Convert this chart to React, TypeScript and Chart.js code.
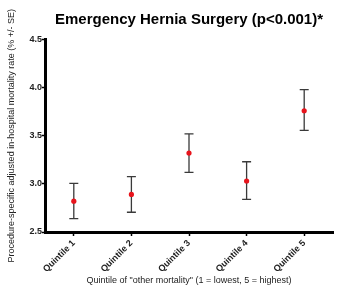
import React, { useEffect, useRef } from "react";
import { Chart, registerables } from "chart.js";

Chart.register(...registerables);

const categories = ["Quintile 1", "Quintile 2", "Quintile 3", "Quintile 4", "Quintile 5"];
const meanValues = [2.82, 2.89, 3.32, 3.03, 3.76];
const upperValues = [3.005, 3.075, 3.52, 3.23, 3.98];
const lowerValues = [2.64, 2.705, 3.12, 2.84, 3.555];
const yTicks = [2.5, 3.0, 3.5, 4.0, 4.5];

const titleText = "Emergency Hernia Surgery (p<0.001)*";
const xTitle = 'Quintile of "other mortality" (1 = lowest, 5 = highest)';
const yTitle = "Procedure-specific adjusted in-hospital mortality rate (% +/- SE)";

const FONT = "'Liberation Sans', Arial, Helvetica, sans-serif";

const errorBarPlugin = {
  id: "errorBars",
  beforeDatasetsDraw(chart: any) {
    const { ctx, scales } = chart;
    const xs = scales.x;
    const ys = scales.y;
    ctx.save();
    ctx.strokeStyle = "#3a3a3a";
    ctx.lineWidth = 1.3;
    const cap = 4.5;
    categories.forEach((_, i) => {
      const x = xs.getPixelForValue(i);
      const yt = ys.getPixelForValue(upperValues[i]);
      const yb = ys.getPixelForValue(lowerValues[i]);
      ctx.beginPath();
      ctx.moveTo(x, yt);
      ctx.lineTo(x, yb);
      ctx.moveTo(x - cap, yt);
      ctx.lineTo(x + cap, yt);
      ctx.moveTo(x - cap, yb);
      ctx.lineTo(x + cap, yb);
      ctx.stroke();
    });
    ctx.restore();
  },
};

export default function App() {
  const ref = useRef<HTMLCanvasElement | null>(null);
  useEffect(() => {
    if (!ref.current) return;
    const chart = new Chart(ref.current, {
      type: "line",
      data: {
        labels: categories,
        datasets: [
          {
            data: meanValues,
            showLine: false,
            pointRadius: 2.6,
            pointBackgroundColor: "#e8141c",
            pointBorderColor: "#e8141c",
            pointBorderWidth: 0,
          },
        ],
      },
      options: {
        responsive: false,
        animation: false,
        layout: { padding: { top: 0, right: 1, bottom: 0, left: 0 } },
        plugins: {
          legend: { display: false },
          tooltip: { enabled: false },
          title: {
            display: true,
            text: titleText,
            fullSize: false,
            color: "#000",
            font: { family: FONT, size: 15, weight: "bold", lineHeight: 1.2 },
            padding: { top: 11.3, bottom: 10.2 },
          },
        },
        scales: {
          x: {
            type: "category",
            offset: true,
            afterFit: (s: any) => {
              s.height = 69;
            },
            grid: {
              offset: false,
              drawOnChartArea: false,
              drawTicks: true,
              tickLength: 4,
              tickWidth: 1.5,
              tickColor: "#000",
            },
            border: { display: true, color: "#000", width: 3 },
            ticks: {
              minRotation: 45,
              maxRotation: 45,
              padding: 2,
              color: "#222",
              font: { family: FONT, size: 9, weight: "bold" },
            },
            title: {
              display: true,
              text: xTitle,
              color: "#222",
              font: { family: FONT, size: 9 },
              padding: { top: 0, bottom: 14.6 },
            },
          },
          y: {
            min: 2.5,
            max: 4.5,
            afterFit: (s: any) => {
              s.width = 45;
            },
            afterBuildTicks: (s: any) => {
              s.ticks = yTicks.map((v) => ({ value: v }));
            },
            grid: {
              drawOnChartArea: false,
              drawTicks: true,
              tickLength: 3,
              tickWidth: 1.5,
              tickColor: "#000",
            },
            border: { display: true, color: "#000", width: 3 },
            ticks: {
              padding: 0,
              color: "#222",
              font: { family: FONT, size: 9, weight: "bold" },
              callback: (v: any) => Number(v).toFixed(1),
            },
            title: {
              display: true,
              text: yTitle,
              color: "#222",
              font: { family: FONT, size: 9 },
              padding: { top: 6, bottom: 0 },
            },
          },
        },
      },
      plugins: [errorBarPlugin],
    } as any);
    return () => chart.destroy();
  }, []);
  return (
    <div style={{ position: "fixed", left: 0, top: 0, width: 337, height: 301, background: "#fff" }}>
      <canvas ref={ref} width={337} height={301} />
    </div>
  );
}
